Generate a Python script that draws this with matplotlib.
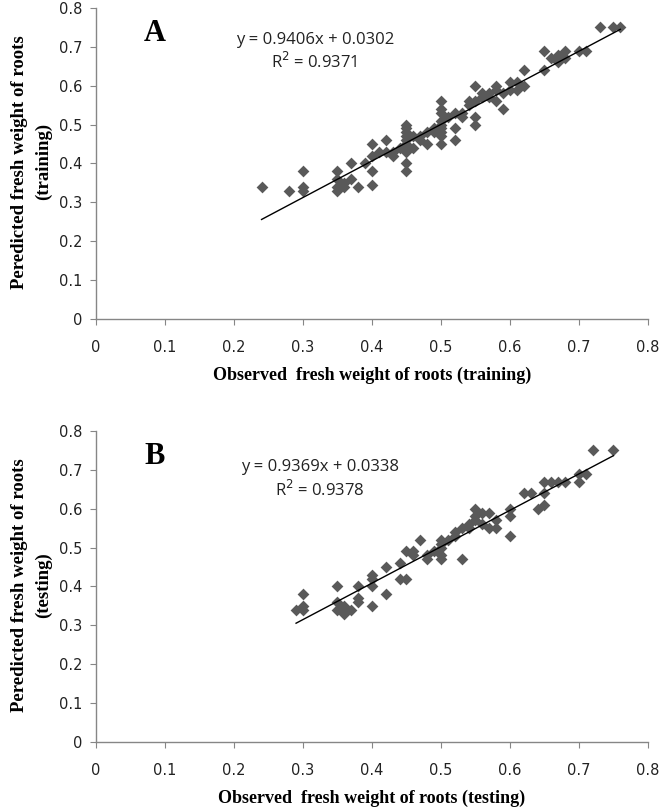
import matplotlib
matplotlib.use("Agg")
import matplotlib.pyplot as plt
import numpy as np

# Panel A - training
obs_train = [0.24, 0.28, 0.30, 0.30, 0.30, 0.35, 0.35, 0.35, 0.35, 0.36,
             0.36, 0.37, 0.37, 0.38, 0.39, 0.40, 0.40, 0.40, 0.40, 0.41,
             0.42, 0.42, 0.43, 0.43, 0.44, 0.45, 0.45, 0.45, 0.45, 0.45,
             0.45, 0.45, 0.45, 0.45, 0.46, 0.46, 0.47, 0.47, 0.48, 0.48,
             0.49, 0.49, 0.50, 0.50, 0.50, 0.50, 0.50, 0.50, 0.50, 0.50,
             0.50, 0.51, 0.52, 0.52, 0.52, 0.53, 0.53, 0.54, 0.54, 0.55,
             0.55, 0.55, 0.55, 0.56, 0.56, 0.57, 0.57, 0.58, 0.58, 0.58,
             0.59, 0.59, 0.60, 0.60, 0.61, 0.61, 0.62, 0.62, 0.65, 0.65,
             0.66, 0.67, 0.67, 0.68, 0.68, 0.70, 0.71, 0.73, 0.75, 0.76]
pred_train = [0.34, 0.33, 0.38, 0.34, 0.33, 0.38, 0.36, 0.34, 0.33, 0.35,
              0.34, 0.36, 0.40, 0.34, 0.40, 0.345, 0.38, 0.42, 0.45, 0.43,
              0.46, 0.43, 0.42, 0.43, 0.44, 0.50, 0.49, 0.48, 0.47, 0.46,
              0.45, 0.40, 0.38, 0.43, 0.44, 0.47, 0.47, 0.46, 0.48, 0.45,
              0.49, 0.48, 0.56, 0.54, 0.53, 0.51, 0.50, 0.49, 0.48, 0.47,
              0.45, 0.52, 0.53, 0.49, 0.46, 0.53, 0.52, 0.55, 0.56, 0.60,
              0.52, 0.50, 0.56, 0.57, 0.58, 0.58, 0.57, 0.59, 0.60, 0.56,
              0.54, 0.58, 0.61, 0.59, 0.59, 0.61, 0.60, 0.64, 0.69, 0.64,
              0.67, 0.66, 0.68, 0.69, 0.67, 0.69, 0.69, 0.75, 0.75, 0.75]

# Panel B - testing
obs_test = [0.29, 0.30, 0.30, 0.30, 0.35, 0.35, 0.35, 0.36, 0.36, 0.37,
            0.38, 0.38, 0.38, 0.40, 0.40, 0.40, 0.40, 0.42, 0.42, 0.44,
            0.44, 0.45, 0.45, 0.46, 0.46, 0.47, 0.48, 0.48, 0.49, 0.50,
            0.50, 0.50, 0.50, 0.50, 0.51, 0.52, 0.52, 0.53, 0.53, 0.54,
            0.54, 0.55, 0.55, 0.55, 0.56, 0.56, 0.57, 0.57, 0.58, 0.58,
            0.60, 0.60, 0.60, 0.62, 0.63, 0.64, 0.65, 0.65, 0.65, 0.66,
            0.67, 0.68, 0.70, 0.70, 0.71, 0.72, 0.75]
pred_test = [0.34, 0.35, 0.34, 0.38, 0.40, 0.36, 0.34, 0.35, 0.33, 0.34,
             0.40, 0.37, 0.36, 0.35, 0.40, 0.42, 0.43, 0.45, 0.38, 0.46,
             0.42, 0.49, 0.42, 0.48, 0.49, 0.52, 0.48, 0.47, 0.49, 0.52,
             0.51, 0.50, 0.48, 0.47, 0.52, 0.54, 0.53, 0.47, 0.55, 0.56,
             0.55, 0.58, 0.60, 0.57, 0.59, 0.56, 0.59, 0.55, 0.57, 0.55,
             0.53, 0.58, 0.60, 0.64, 0.64, 0.60, 0.61, 0.64, 0.67, 0.67,
             0.67, 0.67, 0.69, 0.67, 0.69, 0.75, 0.75]

# Ajustes lineares mostrados no grafico
fit_train = (0.9406, 0.0302, 0.9371)
fit_test = (0.9369, 0.0338, 0.9378)

ticks = [0, 0.1, 0.2, 0.3, 0.4, 0.5, 0.6, 0.7, 0.8]
tick_labels = ['0', '0.1', '0.2', '0.3', '0.4', '0.5', '0.6', '0.7', '0.8']

fig = plt.figure(figsize=(6.66, 8.11), dpi=100)
axA = fig.add_axes([0.1441, 0.6067, 0.8288, 0.3835])
axB = fig.add_axes([0.1441, 0.0851, 0.8288, 0.3835])

panels = [
    (axA, obs_train, pred_train, fit_train, 'A', 'training', (0.317, 0.717, 0.661)),
    (axB, obs_test, pred_test, fit_test, 'B', 'testing', (0.325, 0.707, 0.648)),
]

grey = '#868686'
for ax, xs, ys, fit, letter, kind, txt in panels:
    ax.scatter(xs, ys, marker='D', s=36, color='#595959', zorder=3, linewidths=0)
    m, b, r2 = fit
    xl = np.array([min(xs), max(xs)])
    ax.plot(xl, m * xl + b, color='black', lw=1.0, zorder=4)

    ax.set_xlim(0, 0.8)
    ax.set_ylim(0, 0.8)
    ax.set_xticks(ticks)
    ax.set_yticks(ticks)
    ax.set_xticklabels(tick_labels)
    ax.set_yticklabels(tick_labels)
    for s in ['top', 'right']:
        ax.spines[s].set_visible(False)
    for s in ['left', 'bottom']:
        ax.spines[s].set_color(grey)
        ax.spines[s].set_linewidth(1.0)
    ax.tick_params(axis='both', direction='out', length=4, color=grey,
                   labelsize=10.5, labelcolor='#222222')
    ax.tick_params(axis='x', pad=11)
    ax.tick_params(axis='y', pad=6)

    ax.text(txt[0], txt[1], 'y = %.4fx + %.4f' % (m, b), ha='center', va='center',
            fontsize=12, family='Open Sans', color='#222222')
    ax.text(txt[0], txt[2], 'R$^2$ = %.4f' % r2, ha='center', va='center',
            fontsize=12, family='Open Sans', color='#222222')

    ax.text(0.085, 0.735, letter, ha='center', va='center', fontsize=22,
            fontweight='bold', family='Liberation Serif')

    ax.set_xlabel('Observed  fresh weight of roots (%s)' % kind,
                  family='Liberation Serif', fontweight='bold', fontsize=13)
    ax.xaxis.set_label_coords(0.5, -0.152)
    ax.set_ylabel('Peredicted fresh weight of roots\n(%s)' % kind,
                  family='Liberation Serif', fontweight='bold', fontsize=13.5,
                  multialignment='center', linespacing=1.5)
    ax.yaxis.set_label_coords(-0.08, 0.505)

fig.savefig('out.png', dpi=100)
